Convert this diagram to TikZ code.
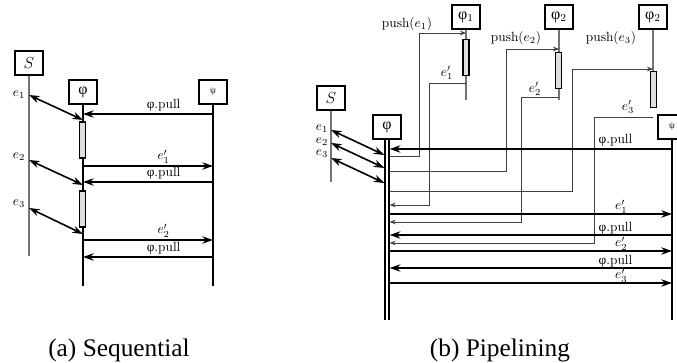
\documentclass[tikz,border=0pt]{standalone}
\usepackage{amsmath,amssymb}
\usepackage{fontspec}
\newfontfamily\grk{Liberation Serif}
\newfontfamily\capfont{Liberation Serif}
\usetikzlibrary{arrows.meta,positioning,calc}

\begin{document}
\begin{tikzpicture}[
  x=0.75pt,y=-0.75pt,
  obj/.style={draw,line width=1.1pt,minimum width=21pt,minimum height=18pt,inner sep=1pt,fill=white,font=\large},
  act/.style={draw,line width=1pt,fill=gray!25,minimum width=4.5pt,minimum height=27pt,inner sep=0pt},
  life/.style={draw=black!55,line width=1pt},
  blife/.style={line width=1.1pt},
  dlife/.style={double,double distance=2pt,line width=0.9pt},
  msg/.style={-{Stealth[length=8pt,width=5.5pt]},line width=1.2pt},
  dmsg/.style={{Stealth[length=8pt,width=5.5pt]}-{Stealth[length=8pt,width=5.5pt]},line width=1.2pt},
  ret/.style={-{Stealth[length=4.5pt,width=3.5pt]},draw=black!75,line width=0.6pt},
  lbl/.style={inner sep=1.5pt},
  captxt/.style={font=\capfont\fontsize{19}{22}\selectfont,anchor=base}
]
\useasboundingbox (0,0) rectangle (677,363);

% (a) sequential
\node[obj] (Sa) at (29,63) {$S$};
\node[obj] (pa) at (83,92) {\grk φ};
\node[obj] (qa) at (213,92) {\scriptsize\grk ψ};
\draw[life] (Sa.south) -- (Sa |- 0,256);
\draw[blife] (pa.south) -- (pa |- 0,286);
\draw[blife] (qa.south) -- (qa |- 0,286);
\node[act] (acta1) at (82.5,140) {};
\node[act] (acta2) at (82.5,209) {};
\draw[msg] (qa |- 0,114) -- node[lbl,above,pos=.38] {{\grk φ}.pull} (pa |- 0,114);
\draw[dmsg] (Sa |- 0,95) -- (pa |- 0,120);
\node[lbl] (ea1) at (19,95) {$e_1$};
\draw[msg] (pa |- 0,166) -- node[lbl,above,pos=.62] {$e'_1$} (qa |- 0,166);
\draw[msg] (qa |- 0,182) -- node[lbl,above,pos=.38] {{\grk φ}.pull} (pa |- 0,182);
\draw[dmsg] (Sa |- 0,160) -- (pa |- 0,185);
\node[lbl] (ea2) at (19,157) {$e_2$};
\draw[dmsg] (Sa |- 0,208) -- (pa |- 0,234);
\node[lbl] (ea3) at (19,204) {$e_3$};
\draw[msg] (pa |- 0,240) -- node[lbl,above,pos=.62] {$e'_2$} (qa |- 0,240);
\draw[msg] (qa |- 0,257) -- node[lbl,above,pos=.38] {{\grk φ}.pull} (pa |- 0,257);
\node[captxt] (capa) at (119,356) {(a) Sequential};

% (b) pipelining
\node[obj] (Sb) at (331,98) {$S$};
\node[obj] (pb) at (387,127) {\grk φ};
\node[obj] (p1) at (466,17) {{\grk φ}$_1$};
\node[obj] (p2) at (559,17) {{\grk φ}$_2$};
\node[obj] (p3) at (653,17) {{\grk φ}$_2$};
\node[obj] (qb) at (672,127) {\scriptsize\grk ψ};
\coordinate (pbl) at ([xshift=-2pt]pb.south);
\coordinate (pbr) at ([xshift=2pt]pb.south);
\draw[life] (Sb.south) -- (Sb |- 0,182);
\draw[dlife] (pb.south) -- (pb |- 0,320);
\draw[blife] (qb.south) -- (qb |- 0,320);
\draw[life] (p1.south) -- (p1 |- 0,100);
\draw[life] (p2.south) -- (p2 |- 0,100);
\draw[life] (p3.south) -- (p3 |- 0,108);
\node[act] (actb1) at (466,57.5) {};
\node[act] (actb2) at (558.5,70.5) {};
\node[act] (actb3) at (653.5,89.5) {};
\draw[dmsg] (Sb |- 0,130) -- (pbl |- 0,155);
\draw[dmsg] (Sb |- 0,143) -- (pbl |- 0,168);
\draw[dmsg] (Sb |- 0,158) -- (pbl |- 0,183);
\node[lbl] (eb1) at (322,129) {$e_1$};
\node[lbl] (eb2) at (322,142) {$e_2$};
\node[lbl] (eb3) at (322,154) {$e_3$};
% pushes and returns
\draw[ret] (pbr |- 0,156) -| (419,33) -- (p1 |- 0,33);
\node[lbl] (lp1) at (407,24) {push$(e_1)$};
\draw[ret] (p1 |- 0,83) -| (429,205) -- (pbr |- 0,205);
\node[lbl] (lr1) at (447,73) {$e'_1$};
\draw[ret] (pbr |- 0,171) -| (506,49) -- (p2 |- 0,49);
\node[lbl] (lp2) at (516,38) {push$(e_2)$};
\draw[ret] (p2 |- 0,97) -| (521,222) -- (pbr |- 0,222);
\node[lbl] (lr2) at (535,89) {$e'_2$};
\draw[ret] (pbr |- 0,191) -| (572,69) -- (p3 |- 0,69);
\node[lbl] (lp3) at (611,38) {push$(e_3)$};
\draw[ret] (p3 |- 0,117) -| (594,243) -- (pbr |- 0,243);
\node[lbl] (lr3) at (628,107) {$e'_3$};
% pulls and results
\draw[msg] (qb |- 0,149) -- node[lbl,above,pos=.2] {{\grk φ}.pull} (pbr |- 0,149);
\draw[msg] (pbr |- 0,214) -- node[lbl,above,pos=.82,inner sep=0pt] {$e'_1$} (qb |- 0,214);
\draw[msg] (qb |- 0,235) -- node[lbl,above,pos=.2,inner sep=0pt] {{\grk φ}.pull} (pbr |- 0,235);
\draw[msg] (pbr |- 0,251) -- node[lbl,above,pos=.82,inner sep=0pt] {$e'_2$} (qb |- 0,251);
\draw[msg] (qb |- 0,268) -- node[lbl,above,pos=.2,inner sep=0pt] {{\grk φ}.pull} (pbr |- 0,268);
\draw[msg] (pbr |- 0,283) -- node[lbl,above,pos=.82,inner sep=0pt] {$e'_3$} (qb |- 0,283);
\node[captxt] (capb) at (500,356) {(b) Pipelining};
\end{tikzpicture}
\end{document}
